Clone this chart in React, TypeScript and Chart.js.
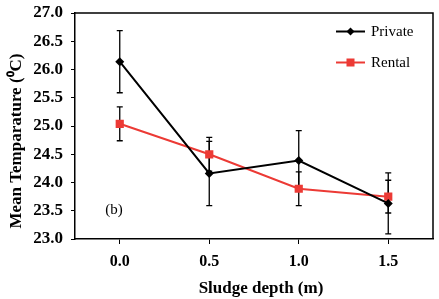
import React, { useEffect, useRef } from "react";
import { Chart, registerables } from "chart.js";

Chart.register(...registerables);

const categories = ["0.0", "0.5", "1.0", "1.5"];
const privateMean = [26.14, 24.16, 24.39, 23.63];
const privateErr = [0.55, 0.57, 0.53, 0.54];
const rentalMean = [25.04, 24.5, 23.89, 23.75];
const rentalErr = [0.3, 0.3, 0.3, 0.29];
const yTicks = [23.0, 23.5, 24.0, 24.5, 25.0, 25.5, 26.0, 26.5, 27.0];

const RED = "#ec3a35";
const SERIF = "'Liberation Serif', 'Times New Roman', serif";

const errorBars = {
  id: "errorBars",
  beforeDatasetsDraw(chart: any) {
    const ctx = chart.ctx;
    const errs = [privateErr, rentalErr];
    const means = [privateMean, rentalMean];
    ctx.save();
    ctx.strokeStyle = "#000";
    ctx.lineWidth = 1.3;
    errs.forEach((err, di) => {
      const meta = chart.getDatasetMeta(di);
      meta.data.forEach((pt: any, i: number) => {
        const x = pt.x;
        const yT = chart.scales.y.getPixelForValue(means[di][i] + err[i]);
        const yB = chart.scales.y.getPixelForValue(means[di][i] - err[i]);
        ctx.beginPath();
        ctx.moveTo(x, yT);
        ctx.lineTo(x, yB);
        ctx.moveTo(x - 3, yT);
        ctx.lineTo(x + 3, yT);
        ctx.moveTo(x - 3, yB);
        ctx.lineTo(x + 3, yB);
        ctx.stroke();
      });
    });
    ctx.restore();
  },
  afterDraw(chart: any) {
    const ctx = chart.ctx;
    const a = chart.chartArea;
    ctx.save();
    ctx.strokeStyle = "#000";
    ctx.lineWidth = 1.5;
    ctx.beginPath();
    ctx.moveTo(a.left, a.top);
    ctx.lineTo(a.right, a.top);
    ctx.lineTo(a.right, a.bottom);
    ctx.stroke();
    const items = [
      { label: "Private", color: "#000", style: "diamond", y: 31.5 },
      { label: "Rental", color: RED, style: "square", y: 62.5 },
    ];
    items.forEach((it) => {
      ctx.strokeStyle = it.color;
      ctx.fillStyle = it.color;
      ctx.lineWidth = 2;
      ctx.beginPath();
      ctx.moveTo(336, it.y);
      ctx.lineTo(365, it.y);
      ctx.stroke();
      const cx = 350.5;
      if (it.style === "diamond") {
        ctx.beginPath();
        ctx.moveTo(cx, it.y - 4);
        ctx.lineTo(cx + 4, it.y);
        ctx.lineTo(cx, it.y + 4);
        ctx.lineTo(cx - 4, it.y);
        ctx.closePath();
        ctx.fill();
      } else {
        ctx.fillRect(cx - 4, it.y - 4, 8, 8);
      }
      ctx.fillStyle = "#000";
      ctx.font = `15px ${SERIF}`;
      ctx.textAlign = "left";
      ctx.textBaseline = "middle";
      ctx.fillText(it.label, 371, it.y + 1);
    });
    ctx.font = `15px ${SERIF}`;
    ctx.textAlign = "center";
    ctx.textBaseline = "middle";
    ctx.fillText("(b)", 114, 210);
    ctx.font = `bold 17px ${SERIF}`;
    ctx.fillText("Sludge depth (m)", (a.left + a.right) / 2 + 7, 289);
    ctx.translate(17, 141);
    ctx.rotate(-Math.PI / 2);
    ctx.font = `bold 17px ${SERIF}`;
    ctx.fillText("Mean Temparature (\u2070C)", 0, 0);
    ctx.restore();
  },
};

export default function App() {
  const ref = useRef<HTMLCanvasElement>(null);
  useEffect(() => {
    if (!ref.current) return;
    const chart = new Chart(ref.current, {
      type: "line",
      data: {
        labels: categories,
        datasets: [
          {
            label: "Private",
            data: privateMean,
            borderColor: "#000",
            backgroundColor: "#000",
            borderWidth: 2,
            pointStyle: "rectRot",
            pointRadius: 4.5,
            pointBorderWidth: 0,
            tension: 0,
          },
          {
            label: "Rental",
            data: rentalMean,
            borderColor: RED,
            backgroundColor: RED,
            borderWidth: 2,
            pointStyle: "rect",
            pointRadius: 5.8,
            pointBorderWidth: 0,
            tension: 0,
          },
        ],
      },
      plugins: [errorBars],
      options: {
        responsive: false,
        animation: false,
        layout: { padding: { top: 13, right: 6, left: 0, bottom: 0 } },
        plugins: { legend: { display: false }, tooltip: { enabled: false } },
        scales: {
          x: {
            type: "category",
            offset: true,
            grid: {
              display: true,
              drawOnChartArea: false,
              drawTicks: true,
              tickLength: 5,
              color: "#000",
              offset: false,
            },
            border: { display: true, color: "#000", width: 1.5 },
            ticks: {
              color: "#000",
              font: { family: SERIF, size: 16, weight: "bold" },
              padding: 8,
              maxRotation: 0,
            },
            afterFit(scale: any) {
              scale.height = 60;
            },
          },
          y: {
            min: 23,
            max: 27,
            afterBuildTicks(scale: any) {
              scale.ticks = yTicks.map((v) => ({ value: v }));
            },
            grid: {
              display: true,
              drawOnChartArea: false,
              drawTicks: true,
              tickLength: 4,
              color: "#000",
            },
            border: { display: true, color: "#000", width: 1.5 },
            ticks: {
              color: "#000",
              font: { family: SERIF, size: 17, weight: "bold", lineHeight: 0.6 },
              padding: 8,
              callback: (v: any) => Number(v).toFixed(1),
            },
            afterFit(scale: any) {
              scale.width = 75;
            },
          },
        },
      },
    } as any);
    return () => chart.destroy();
  }, []);
  return (
    <div style={{ position: "absolute", left: 0, top: 0, width: 439, height: 299, background: "#fff" }}>
      <canvas ref={ref} width={439} height={299} />
    </div>
  );
}
